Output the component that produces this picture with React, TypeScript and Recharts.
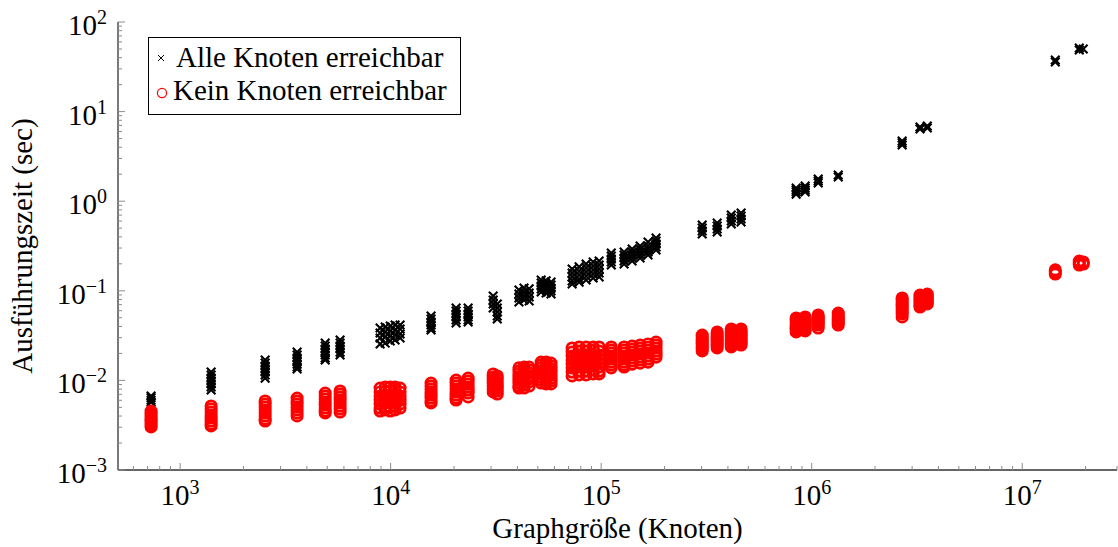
import React from "react";
import { ScatterChart, Scatter, XAxis, YAxis, Legend, Label } from "recharts";

// graph sizes (nodes) and the measured run times for each size
const graphSizes = [
  728, 1404, 2535, 3595, 4888, 5754, 8913, 9419, 9954, 10500, 11090, 15560, 20460, 23340, 30700, 32100,
  40700, 43000, 45500, 51900, 54800, 57800, 72800, 78600, 84800, 91600, 97800, 111700, 128500, 140300,
  153100, 167000, 182300, 302000, 355700, 415000, 462000, 844000, 931000, 1074000, 1337000, 2690000,
  3270000, 3540000, 14360000, 18670000, 19500000,
];

const allReachableSec: number[][] = [
  [0.0067, 0.0064, 0.006, 0.0057],
  [0.0124, 0.0115, 0.0106, 0.00984, 0.00912, 0.00844, 0.00781],
  [0.0169, 0.0156, 0.0145, 0.0134, 0.0124, 0.0115, 0.0106],
  [0.0207, 0.0192, 0.0178, 0.0165, 0.0152, 0.0141, 0.0134],
  [0.0261, 0.0242, 0.0224, 0.0207, 0.0192, 0.0178, 0.0169],
  [0.0282, 0.0261, 0.0242, 0.0224, 0.0207, 0.0192],
  [0.0384, 0.0338, 0.0297, 0.0255],
  [0.0394, 0.0347, 0.0305, 0.0261],
  [0.0405, 0.0356, 0.0313, 0.0275],
  [0.0415, 0.0365, 0.0321, 0.0282],
  [0.0415, 0.0375, 0.033, 0.0297],
  [0.0524, 0.0484, 0.0449, 0.0415, 0.0384, 0.0365],
  [0.0643, 0.0596, 0.0551, 0.0511, 0.0472, 0.0437],
  [0.0643, 0.0596, 0.0551, 0.0511, 0.0472, 0.0449],
  [0.0875, 0.0789, 0.0713, 0.0643],
  [0.0713, 0.0643, 0.058, 0.0524, 0.0484],
  [0.102, 0.092, 0.0832, 0.075],
  [0.107, 0.097, 0.0875, 0.0789],
  [0.105, 0.0944, 0.0853, 0.0769],
  [0.132, 0.122, 0.113, 0.105, 0.097],
  [0.129, 0.119, 0.11, 0.102, 0.0944],
  [0.125, 0.116, 0.107, 0.0995, 0.092],
  [0.175, 0.158, 0.143, 0.129, 0.119],
  [0.185, 0.166, 0.15, 0.135, 0.125],
  [0.199, 0.18, 0.162, 0.146, 0.132],
  [0.21, 0.189, 0.171, 0.154, 0.139],
  [0.215, 0.194, 0.175, 0.158, 0.143],
  [0.264, 0.244, 0.226, 0.21, 0.194],
  [0.271, 0.251, 0.232, 0.215, 0.199],
  [0.293, 0.271, 0.251, 0.232, 0.215],
  [0.316, 0.293, 0.271, 0.251, 0.232],
  [0.351, 0.316, 0.293, 0.271, 0.251],
  [0.388, 0.36, 0.333, 0.308, 0.285],
  [0.542, 0.502, 0.465, 0.431],
  [0.571, 0.528, 0.49, 0.453],
  [0.701, 0.649, 0.601, 0.557],
  [0.738, 0.684, 0.632, 0.586],
  [1.4, 1.33, 1.27, 1.2],
  [1.48, 1.4, 1.33, 1.27],
  [1.77, 1.68, 1.6],
  [1.96, 1.86],
  [4.7, 4.47, 4.24],
  [6.73, 6.4],
  [6.91, 6.56],
  [37.7, 35.8],
  [51.3, 48.7],
  [50.0],
];

const noneReachableSec: number[][] = [
  [0.00455, 0.00433, 0.00411, 0.00391, 0.00371, 0.00352, 0.00335, 0.00318, 0.00302],
  [0.00518, 0.0048, 0.00444, 0.00411, 0.0038, 0.00352, 0.00326, 0.0031],
  [0.00589, 0.00545, 0.00505, 0.00468, 0.00433, 0.00401, 0.00371, 0.00352],
  [0.00636, 0.00589, 0.00545, 0.00505, 0.00468, 0.00433, 0.00401],
  [0.00723, 0.0067, 0.0062, 0.00574, 0.00531, 0.00492, 0.00455, 0.00433],
  [0.00762, 0.00705, 0.00653, 0.00604, 0.0056, 0.00518, 0.0048, 0.00444],
  [0.00822, 0.00743, 0.0067, 0.00604, 0.00545, 0.00492, 0.00455],
  [0.00844, 0.00762, 0.00687, 0.0062, 0.0056, 0.00505, 0.00468],
  [0.00844, 0.00762, 0.00687, 0.0062, 0.0056, 0.00505, 0.00455],
  [0.00844, 0.00781, 0.00705, 0.00636, 0.00574, 0.00518, 0.00468],
  [0.00822, 0.00743, 0.0067, 0.00604, 0.00545, 0.00492],
  [0.00935, 0.00866, 0.00802, 0.00743, 0.00687, 0.00636, 0.00589, 0.0056],
  [0.0101, 0.00935, 0.00866, 0.00802, 0.00743, 0.00687, 0.00636, 0.00604],
  [0.0106, 0.00984, 0.00912, 0.00844, 0.00781, 0.00723, 0.00653],
  [0.0118, 0.0109, 0.0101, 0.00935, 0.00866, 0.00802, 0.00743],
  [0.0112, 0.0104, 0.0096, 0.00889, 0.00822, 0.00762, 0.00705],
  [0.0138, 0.0127, 0.0118, 0.0109, 0.0101, 0.00935, 0.00866, 0.00822],
  [0.0141, 0.0131, 0.0121, 0.0112, 0.0104, 0.0096, 0.00889, 0.00822],
  [0.0141, 0.0131, 0.0121, 0.0112, 0.0104, 0.0096, 0.00866],
  [0.016, 0.0149, 0.0138, 0.0127, 0.0118, 0.0109, 0.0101, 0.00935],
  [0.016, 0.0149, 0.0138, 0.0127, 0.0118, 0.0109, 0.0101, 0.00912],
  [0.0156, 0.0145, 0.0134, 0.0124, 0.0115, 0.0106, 0.00984, 0.00912],
  [0.023, 0.0207, 0.0187, 0.0169, 0.0152, 0.0138, 0.0124, 0.0112],
  [0.0236, 0.0213, 0.0192, 0.0173, 0.0156, 0.0141, 0.0127, 0.0115],
  [0.0236, 0.0213, 0.0192, 0.0173, 0.0156, 0.0141, 0.0127, 0.0115],
  [0.0236, 0.0218, 0.0197, 0.0178, 0.016, 0.0145, 0.0131, 0.0118],
  [0.0236, 0.0213, 0.0192, 0.0173, 0.0156, 0.0141, 0.0127, 0.0118],
  [0.0236, 0.0218, 0.0202, 0.0187, 0.0173, 0.016, 0.0149, 0.0138],
  [0.0236, 0.0218, 0.0202, 0.0187, 0.0173, 0.016, 0.0149, 0.0141],
  [0.0242, 0.0224, 0.0207, 0.0192, 0.0178, 0.0165, 0.0152],
  [0.0248, 0.023, 0.0213, 0.0197, 0.0182, 0.0169, 0.0156],
  [0.0255, 0.0236, 0.0218, 0.0202, 0.0187, 0.0173, 0.016],
  [0.0268, 0.0248, 0.023, 0.0213, 0.0197, 0.0182],
  [0.0321, 0.0305, 0.029, 0.0275, 0.0261, 0.0248, 0.0236, 0.0224, 0.0213],
  [0.0347, 0.033, 0.0313, 0.0297, 0.0282, 0.0268, 0.0255, 0.0242, 0.023],
  [0.0375, 0.0356, 0.0338, 0.0321, 0.0305, 0.029, 0.0275, 0.0261, 0.0248, 0.0236],
  [0.0375, 0.0356, 0.0338, 0.0321, 0.0305, 0.029, 0.0275, 0.0261, 0.0248],
  [0.0497, 0.0472, 0.0449, 0.0426, 0.0405, 0.0384, 0.0365, 0.0347],
  [0.0511, 0.0484, 0.046, 0.0437, 0.0415, 0.0394, 0.0375, 0.0356],
  [0.0537, 0.0511, 0.0484, 0.046, 0.0437, 0.0415, 0.0384],
  [0.0565, 0.0537, 0.0511, 0.0484, 0.046, 0.0437, 0.0415],
  [0.0832, 0.0789, 0.075, 0.0713, 0.0676, 0.0643, 0.0611, 0.058, 0.0551, 0.0511],
  [0.0897, 0.0853, 0.081, 0.0769, 0.0731, 0.0695, 0.0659],
  [0.092, 0.0875, 0.0832, 0.0789, 0.075, 0.0713],
  [0.171, 0.162, 0.154],
  [0.215, 0.204, 0.194],
  [0.21, 0.199],
];

const xDomain = [507, 2.82e7];
const yDomain = [1e-3, 1e2];
const xDecades = [1e2, 1e3, 1e4, 1e5, 1e6, 1e7];
const yDecades = [1e-3, 1e-2, 1e-1, 1e0, 1e1];

const FONT = "'Liberation Serif', 'Times New Roman', serif";
const TICK_COLOR = "#8a8a8a";
const frame = { stroke: "#333", strokeWidth: 1.3 };

const logTicks = (decades: number[], lo: number, hi: number) => {
  const out: number[] = [];
  decades.forEach((d) => {
    for (let m = 1; m <= 9; m++) {
      const v = d * m;
      if (v >= lo * 0.9999 && v <= hi * 1.0001) out.push(v);
    }
  });
  if (hi >= Math.pow(10, Math.round(Math.log10(hi))) && !out.includes(hi)) out.push(hi);
  return out;
};

const xTicks = logTicks(xDecades, xDomain[0], xDomain[1]);
const yTicks = logTicks(yDecades, yDomain[0], yDomain[1]);

const isDecade = (v: number) => {
  const l = Math.log10(v);
  return Math.abs(l - Math.round(l)) < 1e-6;
};
const expText = (v: number) => String(Math.round(Math.log10(v))).replace("-", "\u2212");

const toPoints = (times: number[][]) =>
  graphSizes.flatMap((n, i) => times[i].map((t) => ({ nodes: n, sec: t })));

const allPoints = toPoints(allReachableSec);
const nonePoints = toPoints(noneReachableSec);

function BottomTick(props: any) {
  const { x, y, payload } = props;
  const major = isDecade(payload.value);
  return (
    <g>
      <line x1={x} x2={x} y1={y} y2={y - (major ? 7 : 4)} stroke={TICK_COLOR} strokeWidth={1} />
      {major && (
        <text x={x} y={y + 35} textAnchor="middle" fontFamily={FONT} fontSize={29} fill="#000">
          10
          <tspan dy={-11} fontSize={20}>
            {expText(payload.value)}
          </tspan>
        </text>
      )}
    </g>
  );
}

function TopTick(props: any) {
  const { x, y, payload } = props;
  const major = isDecade(payload.value);
  return <line x1={x} x2={x} y1={y} y2={y + (major ? 7 : 4)} stroke={TICK_COLOR} strokeWidth={1} />;
}

function LeftTick(props: any) {
  const { x, y, payload } = props;
  const major = isDecade(payload.value);
  return (
    <g>
      <line x1={x} x2={x + (major ? 7 : 4)} y1={y} y2={y} stroke={TICK_COLOR} strokeWidth={1} />
      {major && (
        <text x={x - 11} y={y + 13} textAnchor="end" fontFamily={FONT} fontSize={29} fill="#000">
          10
          <tspan dy={-11} fontSize={20}>
            {expText(payload.value)}
          </tspan>
        </text>
      )}
    </g>
  );
}

function RightTick(props: any) {
  const { x, y, payload } = props;
  const major = isDecade(payload.value);
  return <line x1={x} x2={x - (major ? 7 : 4)} y1={y} y2={y} stroke={TICK_COLOR} strokeWidth={1} />;
}

const renderCross = (props: any) => {
  const { cx, cy } = props;
  const s = 4.3;
  return (
    <path
      d={`M${cx - s},${cy - s}L${cx + s},${cy + s}M${cx - s},${cy + s}L${cx + s},${cy - s}`}
      stroke="#000"
      strokeWidth={2.1}
      fill="none"
    />
  );
};

const renderCircle = (props: any) => {
  const { cx, cy } = props;
  return <circle cx={cx} cy={cy} r={5.2} stroke="#ff0000" strokeWidth={2.7} fill="none" />;
};

function LegendBox() {
  return (
    <svg width={313} height={78} style={{ display: "block" }}>
      <rect x={0.5} y={0.5} width={312} height={77} fill="#fff" stroke="#000" strokeWidth={1} />
      <path d="M10,18L16,24M10,24L16,18" stroke="#000" strokeWidth={1} />
      <text x={28} y={30} fontFamily={FONT} fontSize={29} fill="#000">
        Alle Knoten erreichbar
      </text>
      <circle cx={14} cy={56} r={4.6} stroke="#ff0000" strokeWidth={1.2} fill="none" />
      <text x={25} y={63} fontFamily={FONT} fontSize={29} fill="#000">
        Kein Knoten erreichbar
      </text>
    </svg>
  );
}

export default function App() {
  return (
    <div style={{ position: "absolute", left: 0, top: 0, background: "#fff" }}>
      <ScatterChart width={1118} height={547} margin={{ top: 22, right: 1, bottom: 0, left: 0 }}>
        <XAxis
          dataKey="nodes"
          type="number"
          scale="log"
          domain={xDomain}
          allowDataOverflow
          ticks={xTicks}
          interval={0}
          tickSize={0}
          tickMargin={0}
          tickLine={false}
          axisLine={frame}
          tick={(p: any) => <BottomTick {...p} />}
          height={77}
        >
          <Label
            content={(p: any) => {
              const vb = p.viewBox || { x: 118, y: 470, width: 999 };
              return (
                <text
                  x={vb.x + vb.width / 2}
                  y={vb.y + 68}
                  textAnchor="middle"
                  fontFamily={FONT}
                  fontSize={29}
                  fill="#000"
                >
                  Graphgröße (Knoten)
                </text>
              );
            }}
          />
        </XAxis>
        <XAxis
          xAxisId="top"
          orientation="top"
          dataKey="nodes"
          type="number"
          scale="log"
          domain={xDomain}
          allowDataOverflow
          ticks={xTicks}
          interval={0}
          tickSize={0}
          tickMargin={0}
          tickLine={false}
          axisLine={frame}
          tick={(p: any) => <TopTick {...p} />}
          height={0}
        />
        <YAxis
          dataKey="sec"
          type="number"
          scale="log"
          domain={yDomain}
          allowDataOverflow
          ticks={yTicks}
          interval={0}
          tickSize={0}
          tickMargin={0}
          tickLine={false}
          axisLine={frame}
          tick={(p: any) => <LeftTick {...p} />}
          width={118}
        >
          <Label
            content={(p: any) => {
              const vb = p.viewBox || { x: 0, y: 22, height: 448 };
              const cx = vb.x + 32;
              const cy = vb.y + vb.height / 2;
              return (
                <text
                  x={cx}
                  y={cy}
                  transform={`rotate(-90, ${cx}, ${cy})`}
                  textAnchor="middle"
                  fontFamily={FONT}
                  fontSize={29}
                  fill="#000"
                >
                  Ausführungszeit (sec)
                </text>
              );
            }}
          />
        </YAxis>
        <YAxis
          yAxisId="right"
          orientation="right"
          dataKey="sec"
          type="number"
          scale="log"
          domain={yDomain}
          allowDataOverflow
          ticks={yTicks}
          interval={0}
          tickSize={0}
          tickMargin={0}
          tickLine={false}
          axisLine={frame}
          tick={(p: any) => <RightTick {...p} />}
          width={0}
        />
        <Legend
          layout="vertical"
          align="center"
          verticalAlign="middle"
          wrapperStyle={{ left: 148, top: 37, width: 313, height: 78 }}
          content={() => <LegendBox />}
        />
        <Scatter
          name="Alle Knoten erreichbar"
          data={allPoints}
          shape={renderCross}
          isAnimationActive={false}
        />
        <Scatter
          name="Kein Knoten erreichbar"
          data={nonePoints}
          shape={renderCircle}
          isAnimationActive={false}
        />
      </ScatterChart>
    </div>
  );
}
